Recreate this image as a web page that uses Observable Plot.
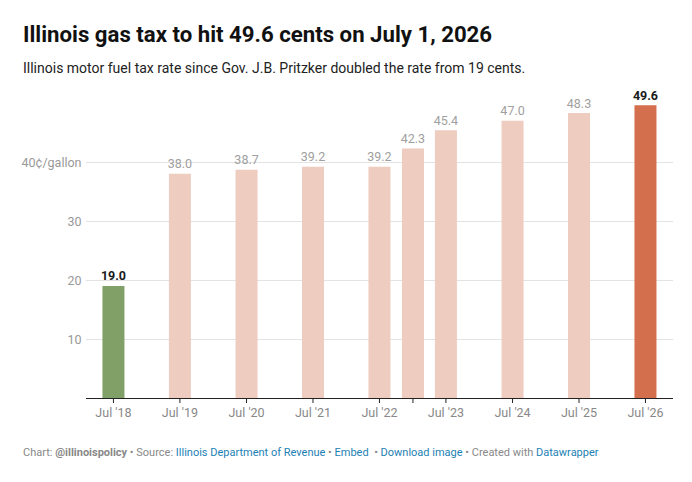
<!DOCTYPE html>
<html>
<head>
<meta charset="utf-8">
<script src="https://cdn.jsdelivr.net/npm/d3@7"></script>
<script src="https://cdn.jsdelivr.net/npm/@observablehq/plot@0.6"></script>
<style>
  html, body { margin: 0; padding: 0; background: #fff; }
  body { font-family: Roboto, "Noto Sans", sans-serif; width: 692px; }
  .title { font-weight: 700; font-size: 22.2px; line-height: 26px; color: #111; margin: 21px 0 0 23px; }
  .subtitle { font-size: 14px; line-height: 18px; color: #222; margin: 12px 0 0 23px; }
  #chart { margin-top: 3px; }
  #chart svg { display: block; }
  .footer { font-size: 11px; line-height: 14px; color: #888; margin: 18px 0 0 23px; }
  .footer a { color: #1d81b5; text-decoration: none; }
  .footer b { font-weight: 700; color: #888; }
</style>
</head>
<body>
<div class="title">Illinois gas tax to hit 49.6 cents on July 1, 2026</div>
<div class="subtitle">Illinois motor fuel tax rate since Gov. J.B. Pritzker doubled the rate from 19 cents.</div>
<div id="chart"></div>
<div class="footer">Chart: <b>@illinoispolicy</b> • Source: <a>Illinois Department of Revenue</a> • <a>Embed</a> &nbsp;• <a>Download image</a> • Created with <a>Datawrapper</a></div>
<script>
// Effective dates of each motor fuel tax rate change
const dates = ["2018-07-01", "2019-07-01", "2020-07-01", "2021-07-01", "2022-07-01",
               "2023-01-01", "2023-07-01", "2024-07-01", "2025-07-01", "2026-07-01"];
// Rate in cents per gallon
const rates = [19.0, 38.0, 38.7, 39.2, 39.2, 42.3, 45.4, 47.0, 48.3, 49.6];
// Which bars are highlighted: "start" (pre-Pritzker), "end" (2026), or "mid"
const groups = ["start", "mid", "mid", "mid", "mid", "mid", "mid", "mid", "mid", "end"];
const yTicks = [10, 20, 30, 40];

const data = dates.map((d, i) => ({date: new Date(d), rate: rates[i], group: groups[i]}));
const fill = {start: "#80a068", mid: "#eeccc0", end: "#d36f4d"};
const isMid = d => d.group === "mid";

const label = (filter, options) => Plot.text(data, {
  filter, x: "date", y: "rate", text: d => d.rate.toFixed(1),
  lineAnchor: "bottom", dy: -6, fontSize: 12.5, ...options
});

const chart = Plot.plot({
  width: 692,
  height: 348,
  marginLeft: 86,
  marginRight: 19,
  marginTop: 23,
  marginBottom: 30,
  style: {fontFamily: "Roboto, sans-serif", fontSize: "12px", background: "#fff"},
  x: {type: "utc", domain: [new Date("2018-02-03"), new Date("2026-12-02")]},
  y: {domain: [0, 50]},
  marks: [
    Plot.gridY(yTicks, {stroke: "#e3e3e3", strokeOpacity: 1}),
    Plot.axisY(yTicks, {
      tickSize: 0, tickPadding: 5, fill: "#999", fontSize: 12.5,
      tickFormat: d => d === 40 ? "40¢/gallon" : String(d), label: null
    }),
    Plot.ruleX(data, {x: "date", y1: 0, y2: "rate", strokeWidth: 22, stroke: d => fill[d.group]}),
    label(isMid, {fill: "#a0a0a0"}),
    label(d => !isMid(d), {fill: "#1a1a1a", fontWeight: 700}),
    Plot.ruleY([0], {stroke: "#222"}),
    Plot.axisX(data.map(d => d.date), {
      tickSize: 5, tickPadding: 5, fill: "#888", stroke: "#222", fontSize: 12.5, label: null,
      tickFormat: d => d.getUTCMonth() === 6 ? `Jul '${String(d.getUTCFullYear()).slice(2)}` : ""
    })
  ]
});
document.getElementById("chart").appendChild(chart);
</script>
</body>
</html>
